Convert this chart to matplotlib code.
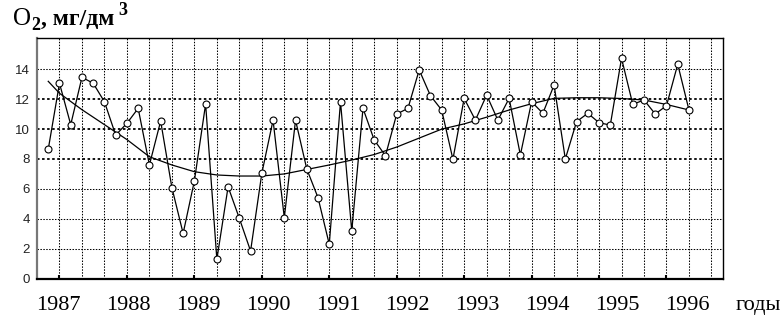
import numpy as np
import matplotlib
matplotlib.use("Agg")
import matplotlib.pyplot as plt
from matplotlib.ticker import FixedLocator
import matplotlib.transforms as mtransforms

# bi-monthly O2 observations, first one at Nov 1986
start_year = 1986 + 10 / 12
o2_values = [
    8.65, 13.07, 10.3, 13.47, 13.07, 11.83, 9.6, 10.39, 11.39, 7.6,
    10.54, 6.08, 3.02, 6.53, 11.68, 1.28, 6.14, 4.03, 1.84, 7.04,
    10.6, 4.07, 10.6, 7.33, 5.41, 2.29, 11.83, 3.18, 11.39, 9.27,
    8.22, 11.01, 11.39, 13.96, 12.24, 11.28, 7.98, 12.06, 10.6, 12.28,
    10.6, 12.06, 8.27, 11.83, 11.06, 12.95, 8.0, 10.5, 11.06, 10.43,
    10.27, 14.74, 11.66, 11.95, 11.01, 11.57, 14.34, 11.28,
]
# smoothed trend, read every 4 months
trend_values = [
    13.2, 12.4, 11.3, 10.3, 9.3, 8.15, 7.6, 7.15, 6.93, 6.86,
    6.86, 7.0, 7.3, 7.6, 7.93, 8.3, 8.8, 9.4, 10.0, 10.35,
    10.8, 11.28, 11.7, 12.06, 12.1, 12.1, 12.05, 11.95, 11.65, 11.28,
]
year_labels = ["1987", "1988", "1989", "1990", "1991",
               "1992", "1993", "1994", "1995", "1996"]
y_ticks = [0, 2, 4, 6, 8, 10, 12, 14]

obs_x = start_year + np.arange(len(o2_values)) / 6
trend_x = np.concatenate([[start_year], 1987 + np.arange(len(trend_values) - 1) / 3])
years = np.arange(1987, 1997)

W, H = 784, 327
fig = plt.figure(figsize=(W / 100, H / 100), dpi=100)
ax = fig.add_axes([37 / W, 48.5 / H, 685.7 / W, 240.5 / H])

ax.set_xlim(1986 + 2 / 3, 1996 + 5 / 6)
ax.set_ylim(0, 16.1)

# dotted grid every 4 months and every 2 units
dots = (0, (1.4, 1.4))
for gx in 1987 + np.arange(0, 30) / 3:
    ax.axvline(gx, color="black", lw=0.75, linestyle=dots, zorder=1)
for gy in y_ticks[1:]:
    ax.axhline(gy, color="black", lw=1.3 if gy in (8, 10, 12) else 0.75,
               linestyle=dots, zorder=1)

ax.plot(trend_x, trend_values, color="black", lw=0.9, zorder=2)
ax.plot(obs_x, o2_values, color="black", lw=0.9, marker="o", markersize=5,
        markerfacecolor="white", markeredgecolor="black", markeredgewidth=0.8,
        zorder=3)

ax.xaxis.set_major_locator(FixedLocator(years))
ax.set_xticklabels([])
ax.tick_params(axis="x", direction="in", length=3, width=1.5)
ax.set_yticks(y_ticks)
ax.set_yticklabels([str(v) for v in y_ticks], fontsize=9.5,
                   family="Liberation Sans", color="#222222")
ax.tick_params(axis="y", length=0, pad=5)

for side in ("top", "right"):
    ax.spines[side].set_linewidth(1.0)
ax.spines["bottom"].set_linewidth(1.6)
ax.spines["left"].set_linewidth(1.6)
ax.spines["left"].set_color("#777777")

# year labels under the axis, slightly wider spaced than the grid
trans = mtransforms.blended_transform_factory(ax.transData, fig.transFigure)
for i, lab in enumerate(year_labels):
    ax.text(1986.98 + i * 1.037, (H - 310) / H, lab, transform=trans,
            ha="center", va="baseline", fontsize=16, family="Liberation Serif",
            clip_on=False)
fig.text(758 / W, (H - 310) / H, "годы", ha="center", va="baseline",
         fontsize=16, family="Liberation Serif")

# title O2, мг/дм3 built from pieces
renderer = fig.canvas.get_renderer()
pieces = [
    ("O", 18, "normal", 25, 0),
    ("2", 13, "bold", 30, 0),
    (", мг/дм", 17, "bold", 25, 1),
    ("3", 13, "bold", 15, 3),
]
x_px = 13
for txt, size, weight, base, gap in pieces:
    t = fig.text((x_px + gap) / W, (H - base) / H, txt, fontsize=size,
                 fontweight=weight, family="Liberation Serif", va="baseline")
    bb = t.get_window_extent(renderer)
    x_px = bb.x1 + gap

fig.savefig("out.png", dpi=100)
